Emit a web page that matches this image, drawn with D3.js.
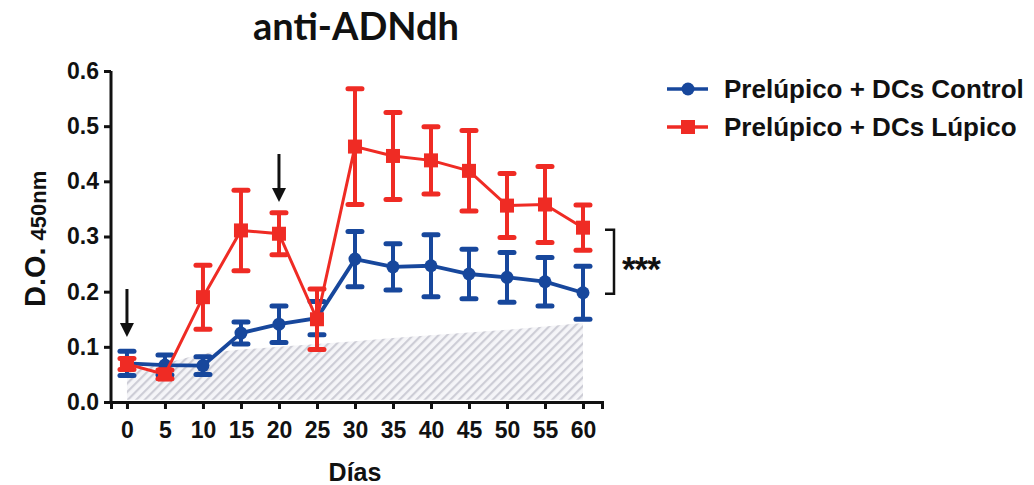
<!DOCTYPE html>
<html>
<head>
<meta charset="utf-8">
<script src="https://cdn.jsdelivr.net/npm/d3@7"></script>
<style>
  body { margin: 0; background: #ffffff; }
  svg { display: block; }
</style>
</head>
<body>
<div id="container"></div>
<script>
// data
const days = [0, 5, 10, 15, 20, 25, 30, 35, 40, 45, 50, 55, 60];
const controlMean = [0.070, 0.067, 0.066, 0.125, 0.141, 0.152, 0.259, 0.245, 0.247, 0.232, 0.226, 0.218, 0.198];
const controlErr  = [0.022, 0.018, 0.016, 0.020, 0.033, 0.030, 0.050, 0.042, 0.056, 0.045, 0.045, 0.044, 0.048];
const lupicoMean  = [0.069, 0.050, 0.190, 0.311, 0.305, 0.150, 0.463, 0.446, 0.438, 0.419, 0.356, 0.358, 0.316];
const lupicoErr   = [0.010, 0.008, 0.058, 0.073, 0.038, 0.055, 0.105, 0.079, 0.061, 0.073, 0.058, 0.069, 0.041];
const baseline    = [0.055, 0.070, 0.088, 0.095, 0.100, 0.105, 0.110, 0.116, 0.121, 0.126, 0.131, 0.137, 0.143];
const arrowDays = [0, 20];
const yTicks = [0, 0.1, 0.2, 0.3, 0.4, 0.5, 0.6];
const seriesNames = ['Prelúpico + DCs Control', 'Prelúpico + DCs Lúpico'];

const W = 1034, H = 485;
const blue = '#17479c';
const red = '#ef2b24';
const font = '"Liberation Sans", Arial, sans-serif';

const svg = d3.select('#container')
    .append('svg')
    .attr('width', W)
    .attr('height', H);

const x = d3.scaleLinear().domain([-2.1, 62.5]).range([111, 602]);
const y = d3.scaleLinear().domain([0, 0.6]).range([402, 71]);

// hatched background
const defs = svg.append('defs');
const pat = defs.append('pattern')
    .attr('id', 'hatch')
    .attr('patternUnits', 'userSpaceOnUse')
    .attr('width', 6)
    .attr('height', 6)
    .attr('patternTransform', 'rotate(45)');
pat.append('rect').attr('width', 6).attr('height', 6).attr('fill', '#f5f5f8');
pat.append('rect').attr('width', 2.2).attr('height', 6).attr('fill', '#cdcdd6');

const area = d3.area()
    .x((d, i) => x(days[i]))
    .y0(y(0.004))
    .y1(d => y(d));
svg.append('path')
    .datum(baseline)
    .attr('d', area)
    .attr('fill', 'url(#hatch)');

// axes
const yAxis = svg.append('g')
    .attr('transform', `translate(${x(-2.1)},0)`)
    .call(d3.axisLeft(y).tickValues(yTicks).tickFormat(d3.format('.1f')).tickSizeOuter(0).tickSize(7).tickPadding(5));
const xAxis = svg.append('g')
    .attr('transform', `translate(0,${y(0)})`)
    .call(d3.axisBottom(x).tickValues(days).tickFormat(d3.format('d')).tickSizeOuter(0).tickSize(7).tickPadding(13));
[yAxis, xAxis].forEach(g => {
    g.select('.domain').attr('stroke', '#111').attr('stroke-width', 3);
    g.selectAll('.tick line').attr('stroke', '#111').attr('stroke-width', 3);
    g.selectAll('.tick text')
        .attr('fill', '#111')
        .style('font-family', font)
        .style('font-weight', 700)
        .style('font-size', '23px');
});
// extend y domain line down to meet x axis cleanly
yAxis.select('.domain').attr('d', `M0,${y(0.6)}V${y(0) + 1.5}`);

// axis titles
svg.append('text')
    .attr('x', 355)
    .attr('y', 481)
    .attr('text-anchor', 'middle')
    .style('font-family', font)
    .style('font-weight', 700)
    .style('font-size', '25px')
    .attr('fill', '#111')
    .text('Días');

const yt = svg.append('text')
    .attr('transform', 'translate(45,307) rotate(-90)')
    .attr('text-anchor', 'start')
    .style('font-family', font)
    .style('font-weight', 700)
    .attr('fill', '#111');
yt.append('tspan').style('font-size', '29px').text('D.O.');
yt.append('tspan').style('font-size', '22px').attr('dx', 7).attr('dy', 1).text('450nm');

// title
svg.append('text')
    .attr('x', 356)
    .attr('y', 40)
    .attr('text-anchor', 'middle')
    .style('font-family', 'Lato, "Open Sans", sans-serif')
    .style('font-weight', 700)
    .style('font-size', '38px')
    .attr('fill', '#111')
    .text('anti-ADNdh');

// arrows marking the immunizations
arrowDays.forEach(d => {
    const ax = x(d);
    const tip = d === 0 ? 337 : 202;
    svg.append('line')
        .attr('x1', ax).attr('x2', ax)
        .attr('y1', tip - 48).attr('y2', tip - 10)
        .attr('stroke', '#111').attr('stroke-width', 3);
    svg.append('path')
        .attr('d', `M${ax - 7},${tip - 14}L${ax + 7},${tip - 14}L${ax},${tip}Z`)
        .attr('fill', '#111');
});

// series
function drawSeries(mean, err, color, lineW, marker) {
    const g = svg.append('g');
    const line = d3.line().x((d, i) => x(days[i])).y(d => y(d));
    g.append('path')
        .datum(mean)
        .attr('d', line)
        .attr('fill', 'none')
        .attr('stroke', color)
        .attr('stroke-width', lineW);
    mean.forEach((m, i) => {
        const cx = x(days[i]);
        g.append('line')
            .attr('x1', cx).attr('x2', cx)
            .attr('y1', y(m - err[i])).attr('y2', y(m + err[i]))
            .attr('stroke', color).attr('stroke-width', 4);
        [m - err[i], m + err[i]].forEach(v => {
            g.append('line')
                .attr('x1', cx - 7).attr('x2', cx + 7)
                .attr('y1', y(v)).attr('y2', y(v))
                .attr('stroke', color).attr('stroke-width', 5)
                .attr('stroke-linecap', 'round');
        });
        marker(g, cx, y(m));
    });
}
const circleMarker = (g, cx, cy) => g.append('circle')
    .attr('cx', cx).attr('cy', cy).attr('r', 6.5).attr('fill', blue);
const squareMarker = (g, cx, cy) => g.append('rect')
    .attr('x', cx - 7).attr('y', cy - 7).attr('width', 14).attr('height', 14).attr('fill', red);

drawSeries(controlMean, controlErr, blue, 3.8, circleMarker);
drawSeries(lupicoMean, lupicoErr, red, 3, squareMarker);

// significance bracket
const last = days.length - 1;
const b1 = y(lupicoMean[last]) + 2, b2 = y(controlMean[last]) + 1;
svg.append('path')
    .attr('d', `M605,${b1}H614V${b2}H605`)
    .attr('fill', 'none')
    .attr('stroke', '#111')
    .attr('stroke-width', 2.5);
svg.append('text')
    .attr('x', 622)
    .attr('y', (b1 + b2) / 2 + 19)
    .style('font-family', font)
    .style('font-weight', 700)
    .style('font-size', '35px')
    .style('letter-spacing', '-1px')
    .attr('fill', '#111')
    .text('***');

// legend
const legend = svg.append('g').attr('transform', 'translate(667,89)');
seriesNames.forEach((name, i) => {
    const row = legend.append('g').attr('transform', `translate(0,${i * 38})`);
    const c = i === 0 ? blue : red;
    row.append('line').attr('x1', 0).attr('x2', 41).attr('y1', 0).attr('y2', 0)
        .attr('stroke', c).attr('stroke-width', 3.5);
    if (i === 0) circleMarker(row, 21, 0);
    else squareMarker(row, 21, 0);
    row.append('text')
        .attr('x', 57)
        .attr('y', 9)
        .style('font-family', font)
        .style('font-weight', 700)
        .style('font-size', '26px')
        .attr('fill', '#111')
        .text(name);
});
</script>
</body>
</html>
